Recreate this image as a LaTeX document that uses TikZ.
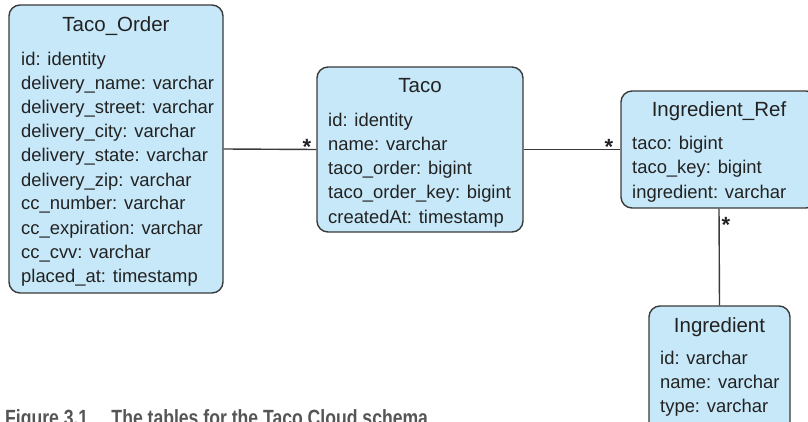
\documentclass[tikz,border=0pt]{standalone}
\usepackage{fontspec}
\setmainfont{Liberation Sans}
\newfontfamily\capfont{Liberation Sans}[UprightFont={* Bold}]
\definecolor{boxfill}{HTML}{C7E8F8}
\definecolor{boxline}{HTML}{3A3A3A}
\definecolor{txt}{HTML}{222222}
\definecolor{capgray}{HTML}{555555}
\begin{document}
\begin{tikzpicture}[x=1pt,y=-1pt,
  table/.style={draw=boxline, line width=1.4pt, fill=boxfill, rounded corners=11pt, inner sep=0pt},
  ttl/.style={anchor=base, text=txt, font=\fontsize{20.5}{24}\selectfont, inner sep=0pt},
  attr/.style={anchor=base west, text=txt, font=\fontsize{18.4}{24}\selectfont, inner sep=0pt},
  mult/.style={anchor=base, text=txt, font=\fontsize{22}{24}\selectfont\bfseries, inner sep=0pt},
  conn/.style={draw=boxline, line width=1.4pt}]
\useasboundingbox (0,0) rectangle (808,422);
\clip (0,0) rectangle (808,422);

% Taco_Order
\node[table, minimum width=214pt, minimum height=288pt] (order) at (116,149) {};
\node[ttl] (orderT) at (116,32) {Taco\_Order};
\foreach \t [count=\i from 0] in {id: identity, delivery\_name: varchar, delivery\_street: varchar, delivery\_city: varchar, delivery\_state: varchar, delivery\_zip: varchar, cc\_number: varchar, cc\_expiration: varchar, cc\_cvv: varchar, placed\_at: timestamp}
  \node[attr] (orderA\i) at (21,66+24*\i) {\t};

% Taco
\node[table, minimum width=206pt, minimum height=165pt] (taco) at (420,149.5) {};
\node[ttl] (tacoT) at (420,93) {Taco};
\foreach \t [count=\i from 0] in {id: identity, name: varchar, taco\_order: bigint, taco\_order\_key: bigint, createdAt: timestamp}
  \node[attr] (tacoA\i) at (328,127+24*\i) {\t};

% Ingredient_Ref
\node[table, minimum width=196pt, minimum height=117pt] (ref) at (719,149.5) {};
\node[ttl] (refT) at (719,117) {Ingredient\_Ref};
\foreach \t [count=\i from 0] in {taco: bigint, taco\_key: bigint, ingredient: varchar}
  \node[attr] (refA\i) at (632,150+24*\i) {\t};

% Ingredient
\node[table, minimum width=141pt, minimum height=130pt] (ingr) at (719.5,371) {};
\node[ttl] (ingrT) at (719.5,332) {Ingredient};
\foreach \t [count=\i from 0] in {id: varchar, name: varchar, type: varchar}
  \node[attr] (ingrA\i) at (660,364+24*\i) {\t};

% connectors
\draw[conn] (order.east) -- (taco.west);
\draw[conn] (taco.east) -- (ref.west);
\draw[conn] (ref.south) -- (ingr.north);

% multiplicities
\node[mult] (m1) at (307,155) {*};
\node[mult] (m2) at (609,155) {*};
\node[mult] (m3) at (726,232) {*};

% caption
\node[anchor=base west, inner sep=0pt, text=capgray, xscale=0.8,
  font=\capfont\fontsize{22}{24}\selectfont] (cap) at (5,425)
  {Figure 3.1\hspace{29pt}The tables for the Taco Cloud schema};
\end{tikzpicture}
\end{document}
